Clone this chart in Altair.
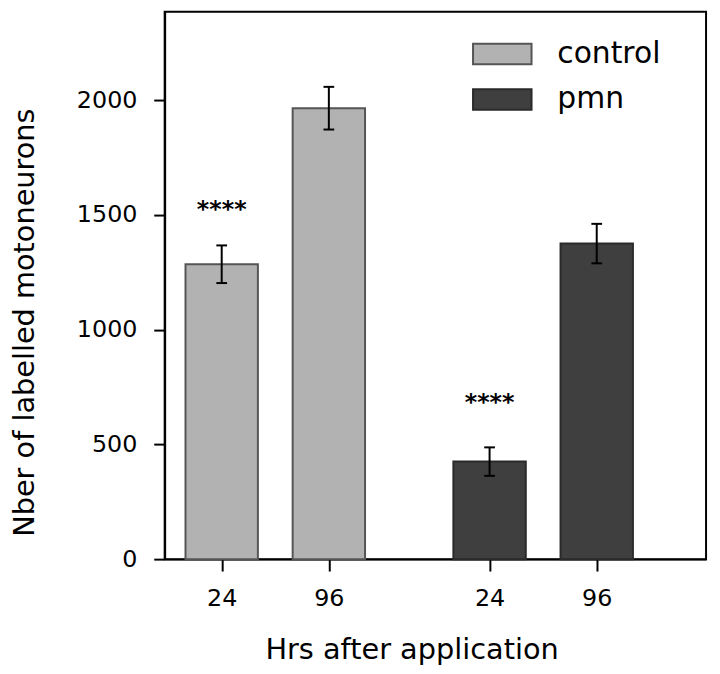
import altair as alt
import pandas as pd

# data
groups = ["control", "control", "pmn", "pmn"]
hours = ["24", "96", "24", "96"]
slot = [1.0, 2.0, 3.5, 4.5]          # category slot on the x axis (gap between groups)
means = [1285, 1965, 425, 1375]
errors = [82, 93, 62, 86]
stars = ["****", "", "****", ""]
star_level = [1528, None, 690, None]

df = pd.DataFrame({
    "group": groups, "hours": hours, "slot": slot,
    "mean": means, "err": errors, "star": stars, "star_y": star_level,
})
df["lo"] = df["mean"] - df["err"]
df["hi"] = df["mean"] + df["err"]

FONT = "DejaVu Sans"
x_dom = [0.514, 5.474]
y_dom = [0, 2385]

xs = alt.Scale(domain=x_dom, nice=False, zero=False)
ys = alt.Scale(domain=y_dom, nice=False)

color_scale = alt.Scale(domain=["control", "pmn"], range=["#b2b2b2", "#3f3f3f"])
stroke_scale = alt.Scale(domain=["control", "pmn"], range=["#555555", "#2a2a2a"])

base = alt.Chart(df)

x_axis = alt.Axis(
    values=slot, labelExpr="datum.value == 1 || datum.value == 3.5 ? '24' : '96'",
    title="Hrs after application", titleFont=FONT, titleFontSize=29, titleFontWeight="normal",
    titleX=249, titleY=100, titleBaseline="alphabetic", titleAlign="center", titleColor="black",
    labelFont=FONT, labelFontSize=24, labelColor="black", labelPadding=16,
    tickSize=12, tickWidth=2, tickColor="black", domainColor="black", domainWidth=2,
    grid=False,
)
y_axis = alt.Axis(
    values=[0, 500, 1000, 1500, 2000], format="d",
    title="Nber of labelled motoneurons", titleFont=FONT, titleFontSize=29, titleFontWeight="normal",
    titleX=-141, titleY=313, titleBaseline="middle", titleAlign="center", titleAngle=270, titleColor="black",
    labelFont=FONT, labelFontSize=24, labelColor="black", labelPadding=17,
    tickSize=11, tickWidth=2, tickColor="black", domainColor="black", domainWidth=2,
    grid=False,
)

bars = base.mark_bar(size=73, strokeWidth=2).encode(
    x=alt.X("slot:Q", scale=xs, axis=x_axis),
    y=alt.Y("mean:Q", scale=ys, axis=y_axis),
    color=alt.Color("group:N", scale=color_scale, legend=alt.Legend(
        title=None, orient="none", legendX=310, legendY=12,
        symbolType="M-1,-0.35L1,-0.35L1,0.35L-1,0.35Z", symbolSize=3481,
        symbolStrokeWidth=2, labelFont=FONT, labelFontSize=30, labelColor="black",
        labelOffset=25, rowPadding=-3,
    )),
    stroke=alt.Stroke("group:N", scale=stroke_scale, legend=None),
)

err_line = base.mark_rule(color="black", strokeWidth=2).encode(
    x="slot:Q", y="lo:Q", y2="hi:Q",
)
cap_hi = base.transform_calculate(a="datum.slot - 0.05", b="datum.slot + 0.05").mark_rule(
    color="black", strokeWidth=2).encode(x="a:Q", x2="b:Q", y="hi:Q")
cap_lo = base.transform_calculate(a="datum.slot - 0.05", b="datum.slot + 0.05").mark_rule(
    color="black", strokeWidth=2).encode(x="a:Q", x2="b:Q", y="lo:Q")

star_text = base.transform_filter("datum.star != ''").mark_text(
    font=FONT, fontSize=24, fontWeight="bold", baseline="alphabetic", dy=9, color="black",
).encode(x="slot:Q", y="star_y:Q", text="star:N")

chart = alt.layer(bars, err_line, cap_hi, cap_lo, star_text).properties(
    width=546, height=552,
    background="white",
    autosize=alt.AutoSizeParams(type="none"),
    padding={"left": 158, "top": 1, "right": 6, "bottom": 112},
).configure_view(stroke="black", strokeWidth=2)

chart.save("out.html", embed_options={"renderer": "svg", "actions": False})
